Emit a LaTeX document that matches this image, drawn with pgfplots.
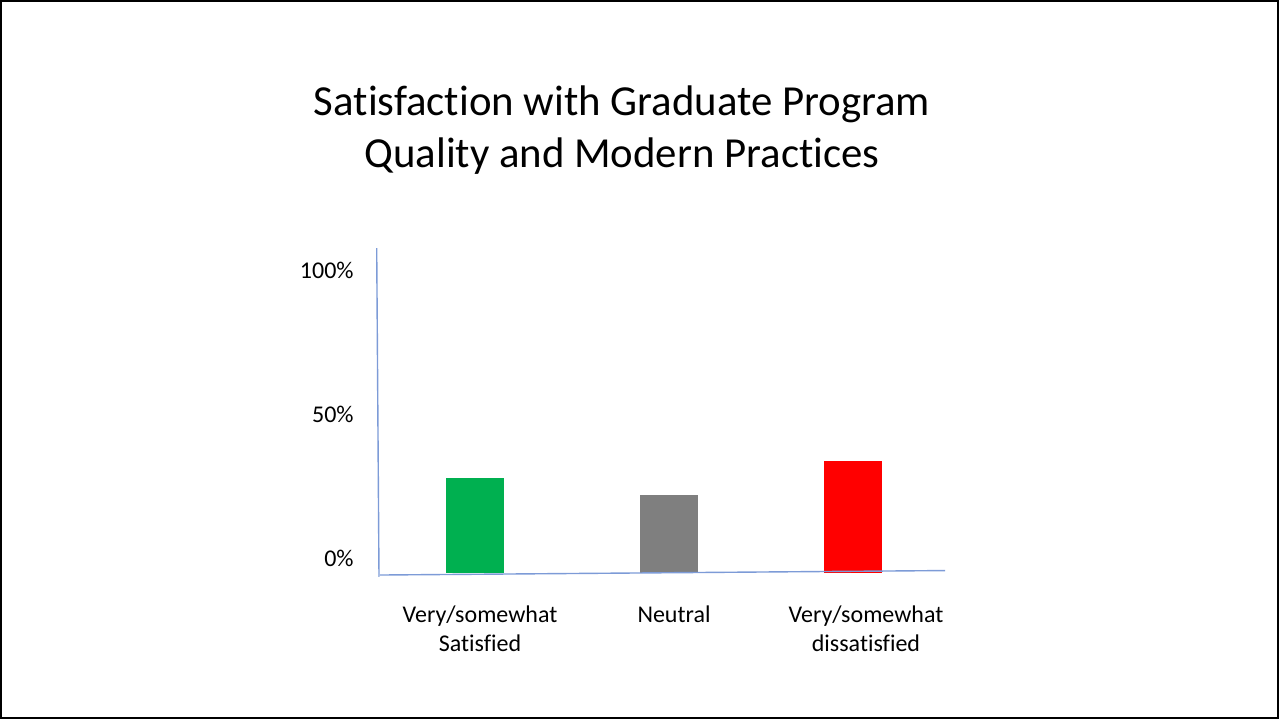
\documentclass[border=0pt]{standalone}
\usepackage{pgfplots}
\usepackage{fontspec}
\pgfplotsset{compat=1.18}
\setmainfont{Carlito}[Ligatures=NoCommon]

\definecolor{bargreen}{RGB}{0,176,80}
\definecolor{bargray}{RGB}{127,127,127}
\definecolor{barred}{RGB}{255,0,0}
\definecolor{axblue}{RGB}{125,155,215}

\begin{document}
% 1 px of the 1279x719 slide = 0.5pt, y measured upwards from the bottom
\begin{tikzpicture}[x=0.5pt,y=0.5pt]
  \useasboundingbox (0,0) rectangle (1279,719);
  \draw[line width=1.2pt] (1.2,1.2) rectangle (1277.8,717.8);

  \node[align=center, font=\fontsize{21.4}{26}\selectfont, inner sep=0pt]
    at (622,589) {Satisfaction with Graduate Program\\Quality and Modern Practices};

  \begin{axis}[
      at={(189pt,70.12pt)}, anchor=south west,
      scale only axis,
      width=283.5pt, height=165.6pt,
      xmin=378, xmax=945,
      ymin=-2, ymax=113,
      axis line style={draw=none},
      major tick length=0pt,
      clip=false,
      ybar, bar width=29pt, bar shift=0pt,
      ytick={0,50,100},
      yticklabels={0\%,50\%,100\%},
      yticklabel style={anchor=east, inner sep=0pt, xshift=-12pt, yshift=7.5pt,
        font=\fontsize{12}{14.5}\selectfont},
      xtick={480,674,866},
      xticklabels={{Very/somewhat\\Satisfied},{Neutral},{Very/somewhat\\dissatisfied}},
      xticklabel style={anchor=north, align=center, inner sep=0pt, yshift=-13.5pt,
        font=\fontsize{12}{14.5}\selectfont},
      /pgf/number format/assume math mode=true,
    ]
    \addplot[fill=bargreen, draw=none] coordinates {(475,33)};
    \addplot[fill=bargray, draw=none] coordinates {(669,27)};
    \addplot[fill=barred, draw=none] coordinates {(853,39)};

    \draw[axblue, line width=0.7pt] (axis cs:376.7,112.8) -- (axis cs:379,-1.3);
    \draw[axblue, line width=0.7pt] (axis cs:380,-0.7) -- (axis cs:945,0.85);
  \end{axis}
\end{tikzpicture}
\end{document}
